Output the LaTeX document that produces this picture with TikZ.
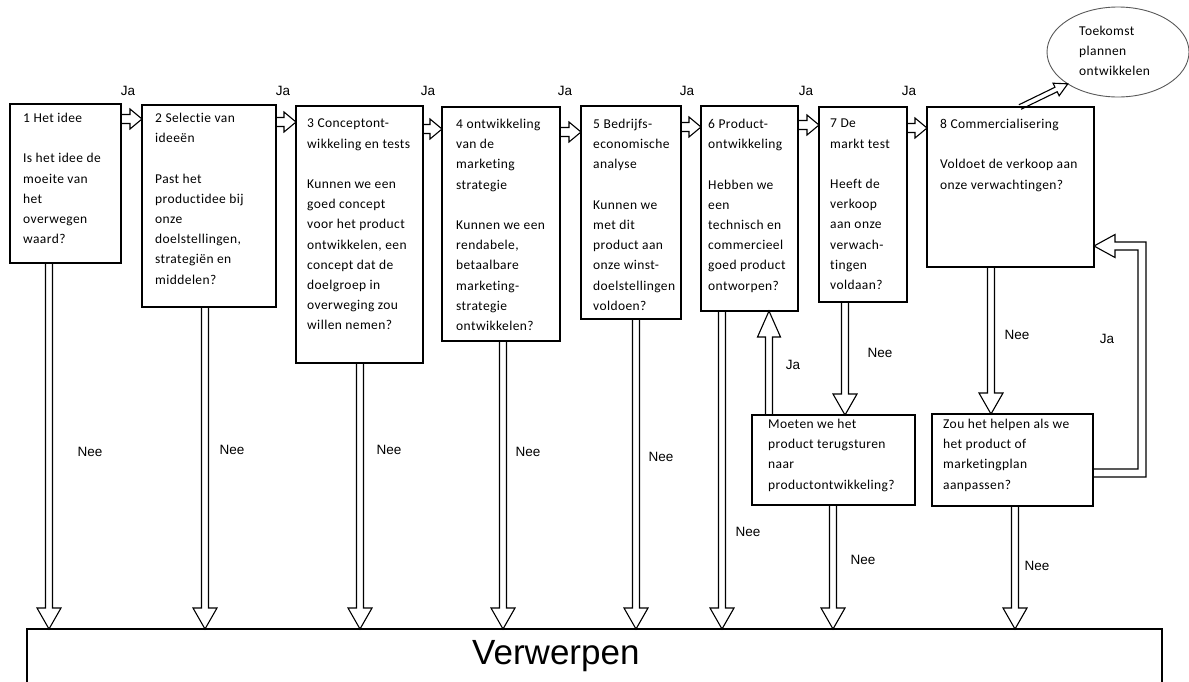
\documentclass[tikz,border=0pt]{standalone}
\usepackage{fontspec}
\usetikzlibrary{calc,shapes.geometric}
\newfontfamily\boxfont{Carlito}[LetterSpace=3.0, Ligatures=NoCommon]
\newfontfamily\labfont{Liberation Sans}

% hollow block arrow from #1 to #2: stem half width #3, head half width #4, head length #5
\newcommand\barrow[5]{%
  \draw[arrowline] let \p1=($(#2)-(#1)$), \n1={atan2(\y1,\x1)}, \n2={veclen(\x1,\y1)} in
    [shift={(#1)}, rotate=\n1]
    (0,#3) -- (\n2-#5,#3) -- (\n2-#5,#4) -- (\n2,0) -- (\n2-#5,-#4) -- (\n2-#5,-#3) -- (0,-#3);}

\begin{document}
\begin{tikzpicture}[x=1pt,y=-1pt,
  box/.style={draw, line width=1.1pt, rectangle, inner sep=0pt, outer sep=0pt, anchor=north west},
  % texts are placed by their top; the first line always has the same height
  boxtext/.style={anchor=north west, inner sep=0pt, align=left,
    font=\boxfont\fontsize{13.5}{20.2}\selectfont,
    execute at begin node={\rule{0pt}{12pt}}},
  yesno/.style={font=\labfont\fontsize{13.5}{16}\selectfont, inner sep=0pt},
  arrowline/.style={line width=1.1pt, line join=miter}]

\useasboundingbox (0,0) rectangle (1189,681);
\clip (0,0) rectangle (1189,681);

% stage boxes
\node[box, minimum width=111pt, minimum height=159pt] (b1) at (10,104) {};
\node[box, minimum width=134pt, minimum height=202pt] (b2) at (142,105) {};
\node[box, minimum width=127pt, minimum height=257pt] (b3) at (296,106) {};
\node[box, minimum width=118pt, minimum height=234pt] (b4) at (442,107) {};
\node[box, minimum width=100pt, minimum height=213pt] (b5) at (581,106) {};
\node[box, minimum width=97pt,  minimum height=205pt] (b6) at (701,106) {};
\node[box, minimum width=88pt,  minimum height=195pt] (b7) at (819,107) {};
\node[box, minimum width=167pt, minimum height=160pt] (b8) at (927,107) {};
\node[box, minimum width=163pt, minimum height=90pt]  (m)  at (752,415) {};
\node[box, minimum width=161pt, minimum height=92pt]  (z)  at (932,414) {};
\node[box, minimum width=1135pt, minimum height=100pt] (rej) at (27,629) {};
\node[ellipse, draw=gray!70!black, line width=0.9pt, minimum width=142pt, minimum height=90pt,
  inner sep=0pt, outer sep=0pt] (fut) at (1118,52) {};

% box texts (y = first baseline - 12)
\node[boxtext] (t1) at (23,113) {1 Het idee\\[20.2pt]Is het idee de\\moeite van\\het\\overwegen\\waard?};
\node[boxtext] (t2) at (155,113) {2 Selectie van\\ideeën\\[20.2pt]Past het\\productidee bij\\onze\\doelstellingen,\\strategiën en\\middelen?};
\node[boxtext] (t3) at (307,119) {3 Conceptont-\\wikkeling en tests\\[20.2pt]Kunnen we een\\goed concept\\voor het product\\ontwikkelen, een\\concept dat de\\doelgroep in\\overweging zou\\willen nemen?};
\node[boxtext] (t4) at (456,119) {4 ontwikkeling\\van de\\marketing\\strategie\\[20.2pt]Kunnen we een\\rendabele,\\betaalbare\\marketing-\\strategie\\ontwikkelen?};
\node[boxtext] (t5) at (593,119) {5 Bedrijfs-\\economische\\analyse\\[20.2pt]Kunnen we\\met dit\\product aan\\onze winst-\\doelstellingen\\voldoen?};
\node[boxtext] (t6) at (708,119) {6 Product-\\ontwikkeling\\[20.2pt]Hebben we\\een\\technisch en\\commercieel\\goed product\\ontworpen?};
\node[boxtext] (t7) at (830,119) {7 De\\markt test\\[20.2pt]Heeft de\\verkoop\\aan onze\\verwach-\\tingen\\voldaan?};
\node[boxtext] (t8) at (940,119) {8 Commercialisering\\[20.2pt]Voldoet de verkoop aan\\onze verwachtingen?};
\node[boxtext] (tm) at (768,419) {Moeten we het\\product terugsturen\\naar\\productontwikkeling?};
\node[boxtext] (tz) at (943,419) {Zou het helpen als we\\het product of\\marketingplan\\aanpassen?};
\node[boxtext] (tf) at (1079,26) {Toekomst\\plannen\\ontwikkelen};
\node[anchor=base west, inner sep=0pt, font=\labfont\fontsize{35}{40}\selectfont] (vt) at (472,664) {Verwerpen};

% "Ja" arrows between the stages
\coordinate (h1) at (b1.east |- 0,119);
\coordinate (h2) at (b2.east |- 0,122);
\coordinate (h3) at (b3.east |- 0,129);
\coordinate (h4) at (b4.east |- 0,132);
\coordinate (h5) at (b5.east |- 0,127);
\coordinate (h6) at (b6.east |- 0,125);
\coordinate (h7) at (b7.east |- 0,128);
\barrow{h1}{h1 -| b2.west}{4.5}{10}{12}
\barrow{h2}{h2 -| b3.west}{4.5}{10}{12}
\barrow{h3}{h3 -| b4.west}{4.5}{10}{12}
\barrow{h4}{h4 -| b5.west}{4.5}{10}{12}
\barrow{h5}{h5 -| b6.west}{4.5}{10}{12}
\barrow{h6}{h6 -| b7.west}{4.5}{10}{12}
\barrow{h7}{h7 -| b8.west}{4.5}{10}{12}

% "Nee" arrows down to the reject bar
\coordinate (s1) at (b1.south -| 49,0);
\coordinate (s2) at (b2.south -| 205,0);
\coordinate (s3) at (b3.south -| 360,0);
\coordinate (s4) at (b4.south -| 503,0);
\coordinate (s5) at (b5.south -| 636,0);
\coordinate (s6) at (b6.south -| 722,0);
\coordinate (sm) at (m.south -| 833,0);
\coordinate (sz) at (z.south -| 1015,0);
\foreach \s in {s1,s2,s3,s4,s5,s6,sm,sz}{\barrow{\s}{\s |- rej.north}{3.5}{12}{21}}

% second chance questions
\coordinate (s7) at (b7.south -| 845,0);
\coordinate (s8) at (b8.south -| 991,0);
\barrow{s7}{s7 |- m.north}{3.5}{12}{21}
\barrow{s8}{s8 |- z.north}{3.5}{12}{21}
\coordinate (su) at (m.north -| 769,0);
\barrow{su}{su |- b6.south}{3.5}{11.5}{26}

% back to commercialisation
\coordinate (l0) at ([yshift=-13pt]z.east);
\coordinate (l3) at ([yshift=-59pt]b8.east);
\coordinate (lx) at (1142,0);
\draw[arrowline] ($(l0)+(0,4)$) -- ($(l0 -| lx)+(4,4)$) -- ($(lx |- l3)+(4,-4)$)
  -- ($(l3)+(21,-4)$) -- ($(l3)+(21,-11.5)$) -- (l3) -- ($(l3)+(21,11.5)$)
  -- ($(l3)+(21,4)$) -- ($(lx |- l3)+(-4,4)$) -- ($(l0 -| lx)+(-4,-4)$) -- ($(l0)+(0,-4)$);

% to future plans
\coordinate (d1) at (b8.north -| 1020,0);
\barrow{d1}{fut.south west}{2.5}{7}{13}

% labels
\node[yesno] (ja1) at (128,91) {Ja};
\node[yesno] (ja2) at (283,91) {Ja};
\node[yesno] (ja3) at (428,91) {Ja};
\node[yesno] (ja4) at (565,91) {Ja};
\node[yesno] (ja5) at (687,91) {Ja};
\node[yesno] (ja6) at (806,91) {Ja};
\node[yesno] (ja7) at (909,91) {Ja};
\node[yesno] (ja8) at (793,365) {Ja};
\node[yesno] (ja9) at (1107,339) {Ja};
\node[yesno] (ne1) at (90,452) {Nee};
\node[yesno] (ne2) at (232,450) {Nee};
\node[yesno] (ne3) at (389,450) {Nee};
\node[yesno] (ne4) at (528,452) {Nee};
\node[yesno] (ne5) at (661,457) {Nee};
\node[yesno] (ne6) at (748,532) {Nee};
\node[yesno] (ne7) at (880,353) {Nee};
\node[yesno] (ne8) at (863,560) {Nee};
\node[yesno] (ne9) at (1017,335) {Nee};
\node[yesno] (ne10) at (1037,566) {Nee};
\end{tikzpicture}
\end{document}
